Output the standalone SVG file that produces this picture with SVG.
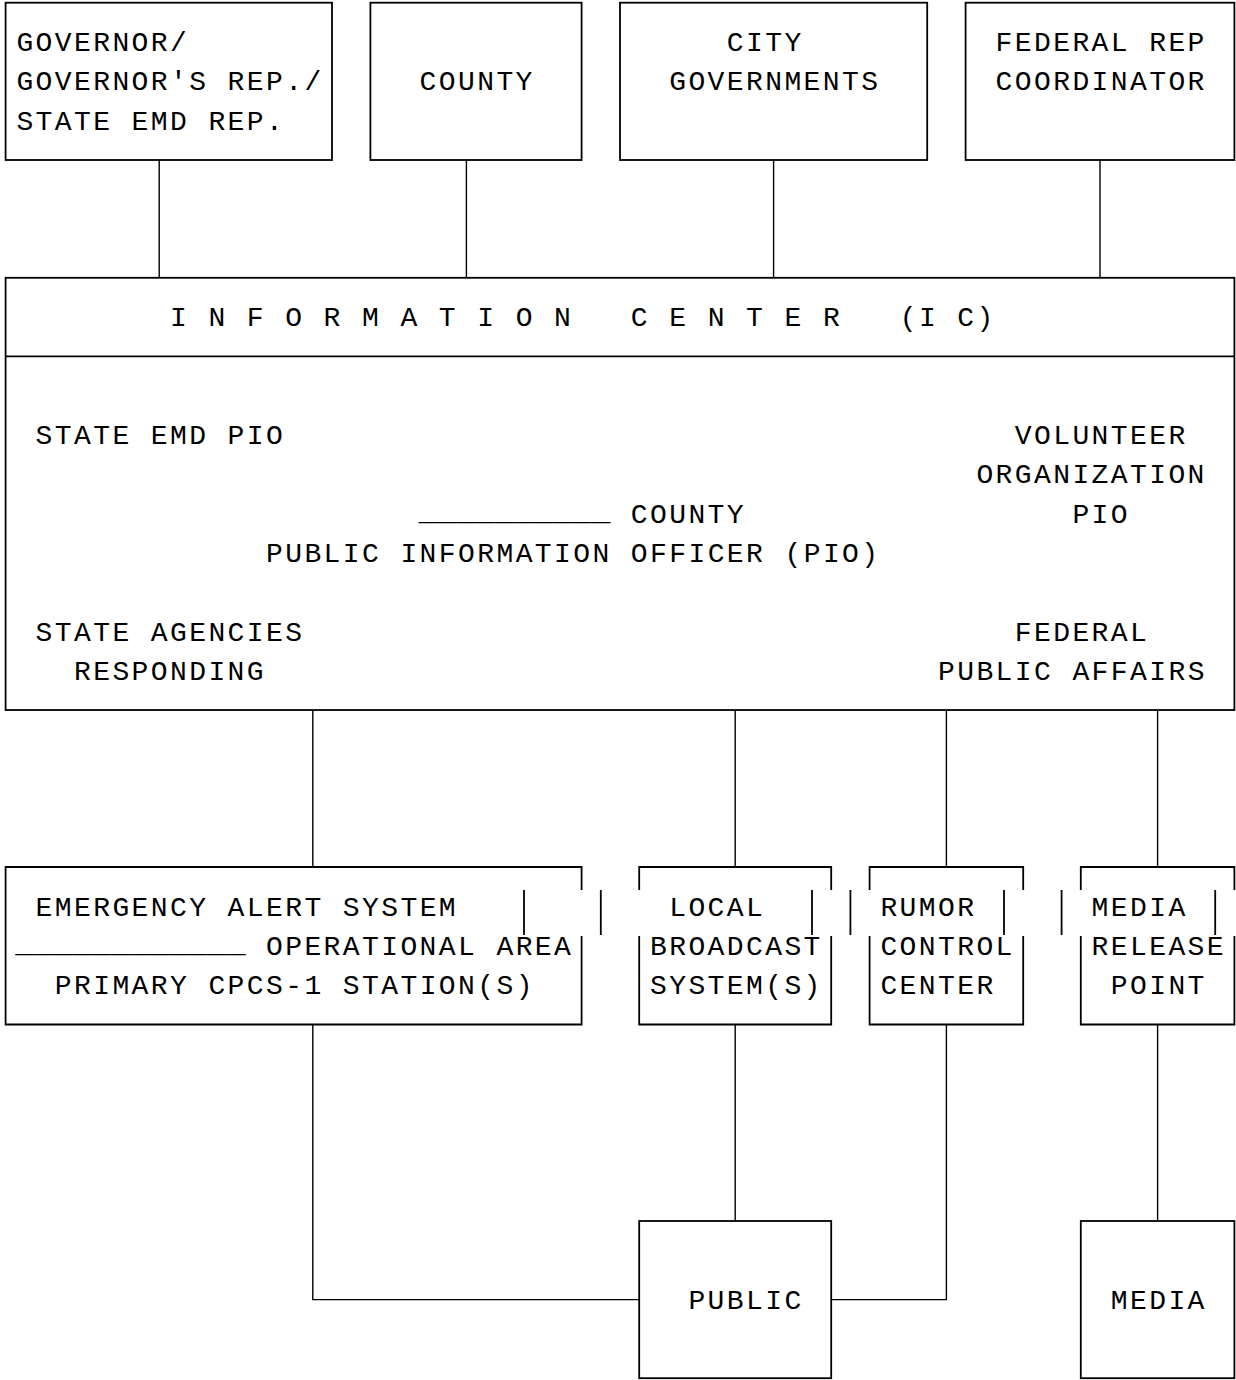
<svg xmlns="http://www.w3.org/2000/svg" width="1236" height="1380" viewBox="0 0 1236 1380">
<style>
  text { font-family: "Liberation Mono", "DejaVu Sans Mono", monospace; font-size: 28px; letter-spacing: 2.4px; fill: #000; }
  .u { letter-spacing: 0; }
  .box { fill: #fff; stroke: #000; stroke-width: 1.8; }
  .edge { fill: none; stroke: #000; stroke-width: 1.8; }
  .conn { fill: none; stroke: #000; stroke-width: 1.4; }
</style>
<rect width="1236" height="1380" fill="#fff"/>

<g id="connectors">
  <path class="conn" d="M159.2 160 V277.8 M466.4 160 V277.8 M773.6 160 V277.8 M1100 160 V277.8"/>
  <path class="conn" d="M312.8 710 V867 M735.2 710 V867 M946.4 710 V867 M1157.6 710 V867"/>
  <path class="conn" d="M312.8 1024.5 V1299.6 H639.2"/>
  <path class="conn" d="M735.2 1024.5 V1221"/>
  <path class="conn" d="M946.4 1024.5 V1299.6 H831.2"/>
  <path class="conn" d="M1157.6 1024.5 V1221"/>
</g>

<g id="governor">
  <rect class="box" x="5.6" y="2.7" width="326.4" height="157.3"/>
  <text x="16.4" y="51">GOVERNOR/</text>
  <text x="16.4" y="90.3">GOVERNOR'S REP./</text>
  <text x="16.4" y="129.6">STATE EMD REP.</text>
</g>

<g id="county">
  <rect class="box" x="370.4" y="2.7" width="211.2" height="157.3"/>
  <text x="419.6" y="90.3">COUNTY</text>
</g>

<g id="city">
  <rect class="box" x="620" y="2.7" width="307.2" height="157.3"/>
  <text x="726.8" y="51">CITY</text>
  <text x="669.2" y="90.3">GOVERNMENTS</text>
</g>

<g id="federal-rep">
  <rect class="box" x="965.6" y="2.7" width="268.8" height="157.3"/>
  <text x="995.6" y="51">FEDERAL REP</text>
  <text x="995.6" y="90.3">COORDINATOR</text>
</g>

<g id="information-center">
  <rect class="box" x="5.6" y="277.8" width="1228.8" height="432.2"/>
  <line class="edge" x1="5.6" y1="356.4" x2="1234.4" y2="356.4"/>
  <text x="170" y="326.1" xml:space="preserve">I N F O R M A T I O N   C E N T E R   (I C)</text>
  <text x="35.6" y="444">STATE EMD PIO</text>
  <text x="1014.8" y="444">VOLUNTEER</text>
  <text x="976.4" y="483.3">ORGANIZATION</text>
  <text class="u" x="418.4" y="519.6" textLength="192" lengthAdjust="spacingAndGlyphs">__________</text>
  <text x="630.8" y="522.6">COUNTY</text>
  <text x="1072.4" y="522.6">PIO</text>
  <text x="266" y="561.9">PUBLIC INFORMATION OFFICER (PIO)</text>
  <text x="35.6" y="640.5">STATE AGENCIES</text>
  <text x="1014.8" y="640.5">FEDERAL</text>
  <text x="74" y="679.8">RESPONDING</text>
  <text x="938" y="679.8">PUBLIC AFFAIRS</text>
</g>

<g id="eas">
  <path class="edge" d="M581.6 890 V867 H5.6 V1024.5 H581.6 V936"/>
  <line class="edge" x1="524" y1="890" x2="524" y2="935"/>
  <text x="35.6" y="915.6">EMERGENCY ALERT SYSTEM</text>
  <text class="u" x="15.2" y="951.9" textLength="230.4" lengthAdjust="spacingAndGlyphs">____________</text>
  <text x="266" y="954.9">OPERATIONAL AREA</text>
  <text x="54.8" y="994.2">PRIMARY CPCS-1 STATION(S)</text>
</g>

<g id="local-broadcast">
  <path class="edge" d="M639.2 890 V867 H831.2 V890 M639.2 936 V1024.5 H831.2 V936"/>
  <line class="edge" x1="600.8" y1="890" x2="600.8" y2="935"/>
  <line class="edge" x1="812" y1="890" x2="812" y2="935"/>
  <text x="669.2" y="915.6">LOCAL</text>
  <text x="650" y="954.9">BROADCAST</text>
  <text x="650" y="994.2">SYSTEM(S)</text>
</g>

<g id="rumor-control">
  <path class="edge" d="M869.6 890 V867 H1023.2 V890 M869.6 936 V1024.5 H1023.2 V936"/>
  <line class="edge" x1="850.4" y1="890" x2="850.4" y2="935"/>
  <line class="edge" x1="1004" y1="890" x2="1004" y2="935"/>
  <text x="880.4" y="915.6">RUMOR</text>
  <text x="880.4" y="954.9">CONTROL</text>
  <text x="880.4" y="994.2">CENTER</text>
</g>

<g id="media-release">
  <path class="edge" d="M1080.8 890 V867 H1234.4 V890 M1080.8 936 V1024.5 H1234.4 V936"/>
  <line class="edge" x1="1061.6" y1="890" x2="1061.6" y2="935"/>
  <line class="edge" x1="1215.2" y1="890" x2="1215.2" y2="935"/>
  <text x="1091.6" y="915.6">MEDIA</text>
  <text x="1091.6" y="954.9">RELEASE</text>
  <text x="1110.8" y="994.2">POINT</text>
</g>

<g id="public">
  <rect class="box" x="639.2" y="1221" width="192" height="157.2"/>
  <text x="688.4" y="1308.6">PUBLIC</text>
</g>

<g id="media">
  <rect class="box" x="1080.8" y="1221" width="153.6" height="157.2"/>
  <text x="1110.8" y="1308.6">MEDIA</text>
</g>
</svg>
